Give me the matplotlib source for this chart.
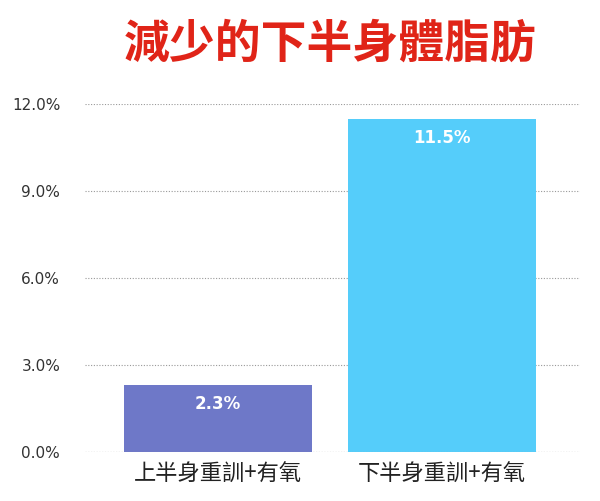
import matplotlib
matplotlib.use("Agg")
import matplotlib.pyplot as plt

plt.rcParams['font.family'] = ['Noto Sans CJK TC', 'DejaVu Sans']

categories = ["上半身重訓+有氧", "下半身重訓+有氧"]
values = [2.3, 11.5]
value_labels = ["2.3%", "11.5%"]
yticks = [0, 3, 6, 9, 12]
ytick_labels = ["0.0%", "3.0%", "6.0%", "9.0%", "12.0%"]
colors = ["#6E78C8", "#55CDFA"]

fig = plt.figure(figsize=(6, 5.01), dpi=100)
ax = fig.add_axes([0.142, 0.098, 0.825, 0.694])
x = range(len(categories))
bars = ax.bar(x, values, width=0.84, color=colors, zorder=2)
for b, lab in zip(bars, value_labels):
    ax.text(b.get_x() + b.get_width()/2, b.get_height() - 0.35, lab,
            ha='center', va='top', color='white', fontsize=12, fontweight='bold',
            family=['DejaVu Sans'])
ax.set_xlim(-0.594, 1.616)
ax.set_ylim(0, 12)
ax.set_yticks(yticks)
ax.set_yticklabels(ytick_labels, fontsize=11, color='#333333', family=['DejaVu Sans'])
ax.set_xticks(list(x))
ax.set_xticklabels(categories, fontsize=16, color='#222222')
ax.tick_params(length=0, pad=8)
ax.yaxis.set_tick_params(pad=18)
ax.grid(axis='y', linestyle=(0, (1, 1.5)), color='#999999', linewidth=0.8, zorder=0)
for s in ax.spines.values():
    s.set_visible(False)
ax.axhline(0, color='#999999', linestyle=(0, (1, 1.5)), linewidth=0.8)
fig.text(0.55, 0.91, "減少的下半身體脂肪", ha='center', va='center',
         fontsize=33, fontweight='bold', color='#E02418')
fig.savefig("out.png")
